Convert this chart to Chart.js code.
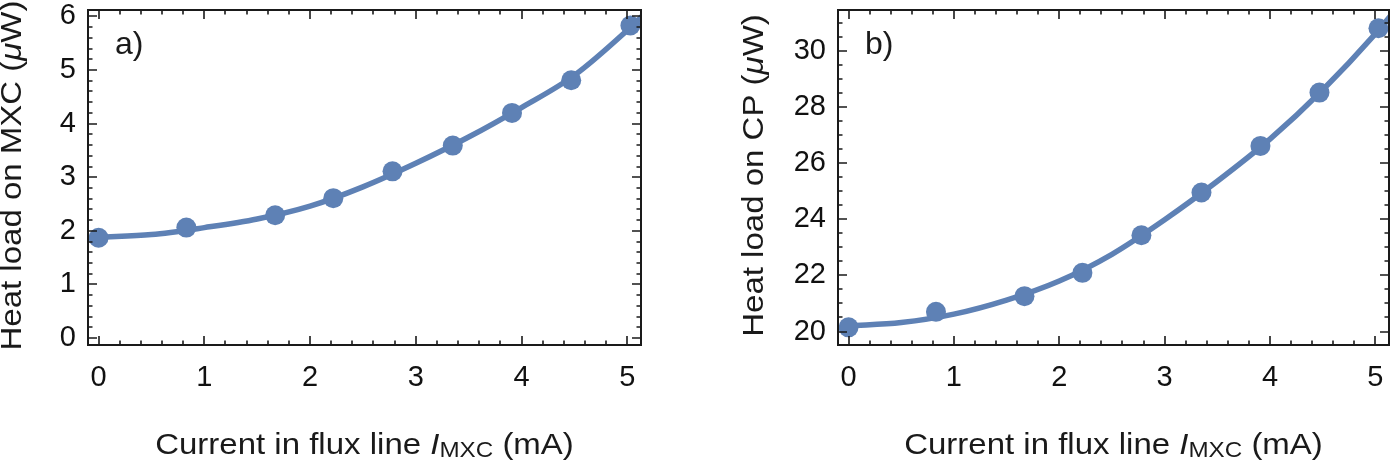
<!DOCTYPE html>
<html>
<head>
<meta charset="utf-8">
<script src="https://cdn.jsdelivr.net/npm/chart.js@4/dist/chart.umd.min.js"></script>
<style>
  html, body { margin: 0; padding: 0; background: #fff; }
  #wrap { position: relative; width: 1399px; height: 461px; overflow: hidden; }
  .panel { position: absolute; top: 0; }
  #panelA { left: 0; }
  #panelB { left: 700px; }
</style>
</head>
<body>
<div id="wrap">
  <div class="panel" id="panelA"><canvas id="chartA" width="700" height="461"></canvas></div>
  <div class="panel" id="panelB"><canvas id="chartB" width="699" height="461"></canvas></div>
</div>
<script>
//? Données.

const courantMesure = [0, 0.83, 1.67, 2.22, 2.78, 3.35, 3.91, 4.47, 5.03];
const chargeMXC = [1.87, 2.06, 2.29, 2.61, 3.11, 3.59, 4.2, 4.81, 5.83];
const chargeCP = [20.15, 20.7, 21.26, 22.09, 23.43, 24.95, 26.61, 28.51, 30.8];

const courantCourbe = [0, 0.5, 1, 1.5, 2, 2.5, 3, 3.5, 4, 4.5, 5, 5.2];
const courbeMXC = [1.88, 1.93, 2.06, 2.22, 2.46, 2.82, 3.26, 3.75, 4.3, 4.9, 5.74, 6.12];
const courbeCP = [20.2, 20.32, 20.62, 21.12, 21.8, 22.75, 23.98, 25.35, 26.85, 28.6, 30.6, 31.5];

const ticksX = [0, 1, 2, 3, 4, 5];
const ticksMXC = [0, 1, 2, 3, 4, 5, 6];
const ticksCP = [20, 22, 24, 26, 28, 30];

//? -------------------------------------------------

const bleu = "#5E81B5";
const noir = "#1a1a1a";
const police = "'Liberation Sans', Arial, Helvetica, sans-serif";
const etirement = 1.1;

//? Texte en plusieurs morceaux (italique, indice), centré.

const ecrireMorceaux = (ctx, morceaux, x, y, angle) => {
  ctx.save();
  ctx.translate(x, y);
  if (angle) ctx.rotate(angle);
  ctx.scale(etirement, 1);
  ctx.fillStyle = noir;
  ctx.textBaseline = "alphabetic";
  ctx.textAlign = "left";
  let total = 0;
  const largeurs = morceaux.map((m) => {
    ctx.font = m.font;
    const w = ctx.measureText(m.t).width;
    total += w;
    return w;
  });
  let cx = -total / 2;
  morceaux.forEach((m, i) => {
    ctx.font = m.font;
    ctx.fillText(m.t, cx, m.dy || 0);
    cx += largeurs[i];
  });
  ctx.restore();
};

const normal = `30px ${police}`;
const italique = `italic 30px ${police}`;
const indice = `22px ${police}`;

const titreX = [
  { t: "Current in flux line ", font: normal },
  { t: "I", font: italique },
  { t: "MXC", font: indice, dy: 3 },
  { t: " (mA)", font: normal },
];

//? Plugin : cadre, graduations vers l'intérieur, titres.

const pluginCadre = {
  id: "cadre",
  afterDatasetsDraw(chart, args, opts) {
    const { ctx, chartArea, scales } = chart;
    const { left, right, top, bottom } = chartArea;
    ctx.save();
    ctx.strokeStyle = noir;
    ctx.lineWidth = 1.6;
    ctx.beginPath();

    const graduer = (scale, majeurs, pas, tracer) => {
      for (let i = Math.ceil(scale.min / pas - 1e-9); i * pas <= scale.max + 1e-9; i++) {
        const v = i * pas;
        const majeur = majeurs.some((t) => Math.abs(t - v) < 1e-6);
        tracer(Math.round(scale.getPixelForValue(v)), majeur ? 9 : 4.5);
      }
    };

    graduer(scales.x, ticksX, 0.2, (px, l) => {
      ctx.moveTo(px, bottom);
      ctx.lineTo(px, bottom - l);
      ctx.moveTo(px, top);
      ctx.lineTo(px, top + l);
    });
    graduer(scales.y, opts.ticksY, opts.pasY, (py, l) => {
      ctx.moveTo(left, py);
      ctx.lineTo(left + l, py);
      ctx.moveTo(right, py);
      ctx.lineTo(right - l, py);
    });
    ctx.stroke();

    ctx.lineWidth = 2;
    ctx.strokeRect(left, top, right - left, bottom - top);

    // lettre du panneau
    ctx.fillStyle = noir;
    ctx.font = `32px ${police}`;
    ctx.textAlign = "left";
    ctx.textBaseline = "alphabetic";
    ctx.fillText(opts.lettre, left + 27, top + 44);

    ctx.restore();

    ecrireMorceaux(ctx, titreX, (left + right) / 2, 454, 0);
    ecrireMorceaux(ctx, opts.titreY, left - opts.decalTitreY, (top + bottom) / 2 - 2, -Math.PI / 2);
  },
};

//? Construction d'un graphique.

const construireGraphique = (idCanvas, cfg) => {
  try {
    const ctx = document.getElementById(idCanvas).getContext("2d");

    const data = {
      datasets: [
        {
          label: "mesures",
          data: courantMesure.map((x, i) => ({ x, y: cfg.points[i] })),
          showLine: false,
          pointRadius: 10,
          pointBackgroundColor: bleu,
          pointBorderWidth: 0,
        },
        {
          label: "ajustement",
          data: courantCourbe.map((x, i) => ({ x, y: cfg.courbe[i] })),
          showLine: true,
          borderColor: bleu,
          borderWidth: 5.5,
          pointRadius: 0,
          cubicInterpolationMode: "monotone",
          clip: 0,
        },
      ],
    };

    const policeTicks = { family: police, size: 29 };

    const options = {
      responsive: false,
      animation: false,
      events: [],
      layout: { padding: { left: 0, right: cfg.padDroite, top: 7, bottom: 0 } },
      plugins: {
        legend: { display: false },
        tooltip: { enabled: false },
        cadre: {
          lettre: cfg.lettre,
          ticksY: cfg.ticksY,
          pasY: cfg.pasY,
          titreY: cfg.titreY,
          decalTitreY: cfg.decalTitreY,
        },
      },
      scales: {
        x: {
          type: "linear",
          min: -0.1,
          max: 5.13,
          afterBuildTicks: (s) => {
            s.ticks = ticksX.map((v) => ({ value: v }));
          },
          afterFit: (s) => {
            s.height = 116;
            s.paddingLeft = 0;
            s.paddingRight = 0;
          },
          grid: { display: false, drawTicks: false },
          border: { display: false },
          ticks: { font: policeTicks, color: "#111", padding: 16, maxRotation: 0, autoSkip: false },
        },
        y: {
          type: "linear",
          min: cfg.yMin,
          max: cfg.yMax,
          afterBuildTicks: (s) => {
            s.ticks = cfg.ticksY.map((v) => ({ value: v }));
          },
          afterFit: (s) => {
            s.width = cfg.largeurAxeY;
            s.paddingTop = 0;
            s.paddingBottom = 0;
          },
          grid: { display: false, drawTicks: false },
          border: { display: false },
          ticks: { font: policeTicks, color: "#111", padding: 12, autoSkip: false },
        },
      },
    };

    new Chart(ctx, { type: "scatter", data, options, plugins: [pluginCadre] });
  } catch (error) {
    console.log("ERREUR | Construction graphique :", error);
  }
};

//? -------------------------------------------------

construireGraphique("chartA", {
  points: chargeMXC,
  courbe: courbeMXC,
  yMin: -0.13,
  yMax: 6.12,
  ticksY: ticksMXC,
  pasY: 0.2,
  lettre: "a)",
  largeurAxeY: 88,
  padDroite: 59,
  decalTitreY: 67,
  titreY: [
    { t: "Heat load on MXC (", font: normal },
    { t: "\u03bc", font: italique },
    { t: "W)", font: normal },
  ],
});

construireGraphique("chartB", {
  points: chargeCP,
  courbe: courbeCP,
  yMin: 19.52,
  yMax: 31.45,
  ticksY: ticksCP,
  pasY: 0.5,
  lettre: "b)",
  largeurAxeY: 138,
  padDroite: 8,
  decalTitreY: 75,
  titreY: [
    { t: "Heat load on CP (", font: normal },
    { t: "\u03bc", font: italique },
    { t: "W)", font: normal },
  ],
});
</script>
</body>
</html>
